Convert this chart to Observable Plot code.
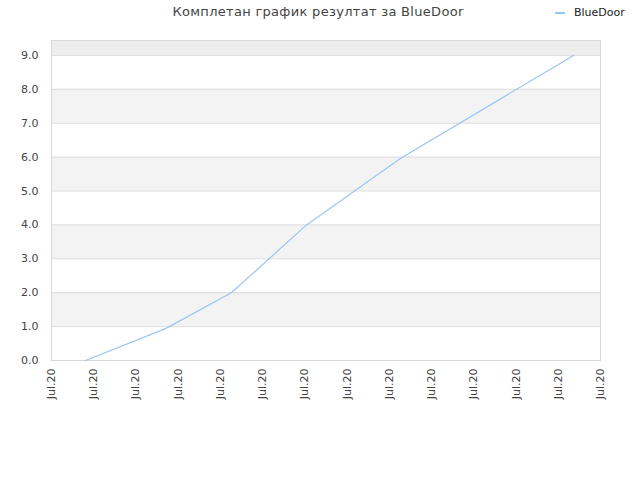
<!DOCTYPE html>
<html>
<head>
<meta charset="utf-8">
<script src="https://cdn.jsdelivr.net/npm/d3@7"></script>
<script src="https://cdn.jsdelivr.net/npm/@observablehq/plot@0.6"></script>
<style>
  body { margin: 0; background: #fff; font-family: "DejaVu Sans", sans-serif; }
  #wrap { position: relative; width: 640px; height: 480px; }
  #title { position: absolute; top: 4px; left: 0; width: 636px; text-align: center; font-size: 13px; color: #444; letter-spacing: 0.3px; }
  #legend { position: absolute; top: 6px; left: 555px; font-size: 11px; color: #222; display: flex; align-items: center; }
  #legend span.sw { display: inline-block; width: 10px; height: 2px; background: #99c5f5; margin-right: 9px; }
  #chart { position: absolute; top: 0; left: 0; }
</style>
</head>
<body>
<div id="wrap">
  <div id="chart"></div>
  <div id="title">Комплетан график резултат за BlueDoor</div>
  <div id="legend"><span class="sw"></span>BlueDoor</div>
</div>
<script>
const seriesName = "BlueDoor";
const xPos = [0.805, 2.70, 4.26, 6.04, 8.26, 12.36];
const yVal = [0.0, 0.94, 2.0, 4.0, 5.96, 9.0];
const xTicks = d3.range(14);
const xTickLabel = "Jul.20";
const yTicks = [0, 1, 2, 3, 4, 5, 6, 7, 8, 9];
const yMax = 9.44;
const bandLow = [1, 3, 5, 7, 9];
const bandHigh = [2, 4, 6, 8, yMax];

const points = xPos.map((x, i) => ({x, y: yVal[i]}));
const bands = bandLow.map((lo, i) => ({lo, hi: bandHigh[i]}));

const chart = Plot.plot({
  width: 640,
  height: 480,
  marginLeft: 51,
  marginRight: 40,
  marginTop: 40,
  marginBottom: 120,
  style: { fontFamily: "DejaVu Sans, sans-serif", fontSize: "11px", color: "#444", background: "#fff" },
  x: { domain: [0, 13], ticks: xTicks, tickFormat: () => xTickLabel, tickRotate: -90, tickSize: 0, tickPadding: 8, label: null },
  y: { domain: [0, yMax], ticks: yTicks, tickFormat: d3.format(".1f"), tickSize: 0, tickPadding: 13, label: null },
  marks: [
    Plot.rectY(bands, { x1: 0, x2: 13, y1: "lo", y2: "hi", fill: d => d.lo >= 9 ? "#eeeeee" : "#f3f3f3" }),
    Plot.ruleY(yTicks, { stroke: "#dddddd", strokeWidth: 1 }),
    Plot.frame({ stroke: "#d8d8d8" }),
    Plot.line(points, { x: "x", y: "y", stroke: "#99c5f5", strokeWidth: 1.2 })
  ]
});
document.getElementById("chart").appendChild(chart);
</script>
</body>
</html>
